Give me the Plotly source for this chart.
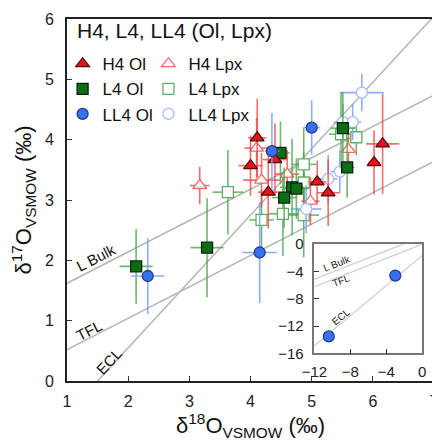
import plotly.graph_objects as go
import numpy as np

# ---------------- data ----------------
h4_ol_x = [4.11, 4.00, 4.40, 4.29, 5.09, 5.27, 6.02, 6.16]
h4_ol_y = [4.03, 3.57, 3.67, 3.13, 3.30, 3.12, 3.62, 3.93]
h4_ol_ex = [0.15, 0.20, 0.20, 0.17, 0.15, 0.19, 0.10, 0.27]
h4_ol_ey = [0.65, 0.50, 0.60, 0.60, 0.35, 0.55, 0.53, 0.83]

h4_lpx_x = [3.17, 4.10, 4.18, 4.60, 5.60, 4.98]
h4_lpx_y = [3.24, 3.86, 3.33, 3.43, 3.84, 2.98]
h4_lpx_ex = [0.16, 0.20, 0.30, 0.20, 0.10, 0.15]
h4_lpx_ey = [0.31, 0.50, 0.45, 0.40, 0.40, 0.40]

l4_ol_x = [2.13, 3.29, 4.49, 4.68, 4.75, 4.55, 5.58, 5.51]
l4_ol_y = [1.90, 2.21, 3.78, 3.21, 3.19, 3.04, 3.54, 4.19]
l4_ol_ex = [0.27, 0.27, 0.15, 0.20, 0.20, 0.20, 0.12, 0.20]
l4_ol_ey = [0.62, 0.82, 0.52, 0.80, 0.50, 0.50, 0.50, 0.60]

l4_lpx_x = [3.63, 4.18, 4.87, 4.87, 4.53, 4.87, 5.48, 5.73]
l4_lpx_y = [3.13, 2.67, 3.59, 3.29, 2.77, 2.75, 4.09, 4.04]
l4_lpx_ex = [0.25, 0.20, 0.20, 0.15, 0.25, 0.25, 0.20, 0.10]
l4_lpx_ey = [0.70, 0.50, 0.60, 0.50, 0.70, 0.70, 0.70, 0.30]

ll4_ol_x = [2.32, 4.15, 4.35, 5.00]
ll4_ol_y = [1.74, 2.13, 3.81, 4.20]
ll4_ol_ex = [0.27, 0.28, 0.12, 0.14]
ll4_ol_ey = [0.63, 0.84, 0.63, 0.45]

ll4_lpx_x = [4.91, 5.27, 5.46, 5.51, 5.67, 5.82]
ll4_lpx_y = [2.85, 3.35, 3.47, 4.29, 4.29, 4.78]
ll4_lpx_ex = [0.25, 0.15, 0.15, 0.15, 0.14, 0.36]
ll4_lpx_ey = [0.40, 0.40, 0.35, 0.30, 0.30, 0.31]

inset_x = [-10.4, -3.0]
inset_y = [-13.5, -4.6]

# reference lines: name, slope, intercept
ref_lines = [("L Bulk", 0.52, 1.10), ("TFL", 0.52, 0.0), ("ECL", 1.10, -1.65)]

FONT = "Liberation Sans, Arial, sans-serif"
RED, RED_L, RED_E = "#e8141c", "#f26a6a", "rgba(245,70,70,0.8)"
GRN, GRN_L, GRN_E = "#0b6e12", "#62ad62", "rgba(75,165,75,0.8)"
BLU, BLU_L, BLU_E = "#3a6ff0", "#a3bdf5", "rgba(120,160,245,0.85)"

fig = go.Figure()

# main reference lines
xs = np.linspace(0.5, 7.5, 50)
for name, m, b in ref_lines:
    fig.add_trace(go.Scatter(x=xs, y=m * xs + b, mode="lines",
                             line=dict(color="#b8b8b8", width=1.6),
                             showlegend=False, hoverinfo="skip"))

def add_series(x, y, ex, ey, name, symbol, fill, edge, ecol, size, legend, rank):
    fig.add_trace(go.Scatter(
        x=x, y=y, mode="markers", name=name,
        marker=dict(symbol=symbol, size=size, color=fill,
                    line=dict(color=edge, width=1.3)),
        error_x=dict(type="data", array=ex, color=ecol, thickness=1.6, width=0),
        error_y=dict(type="data", array=ey, color=ecol, thickness=1.6, width=0),
        legend=legend, legendrank=rank))

add_series(l4_lpx_x, l4_lpx_y, l4_lpx_ex, l4_lpx_ey, "L4 Lpx", "square", "white", GRN_L, GRN_E, 11, "legend2", 2)
add_series(h4_lpx_x, h4_lpx_y, h4_lpx_ex, h4_lpx_ey, "H4 Lpx", "triangle-up", "white", RED_L, RED_E, 12, "legend2", 1)
add_series(ll4_lpx_x, ll4_lpx_y, ll4_lpx_ex, ll4_lpx_ey, "LL4 Lpx", "circle", "white", BLU_L, BLU_E, 11, "legend2", 3)
add_series(l4_ol_x, l4_ol_y, l4_ol_ex, l4_ol_ey, "L4 Ol", "square", GRN, "#102010", GRN_E, 11, "legend", 2)
add_series(h4_ol_x, h4_ol_y, h4_ol_ex, h4_ol_ey, "H4 Ol", "triangle-up", RED, "#5a0a0a", RED_E, 12, "legend", 1)
add_series(ll4_ol_x, ll4_ol_y, ll4_ol_ex, ll4_ol_ey, "LL4 Ol", "circle", BLU, "#1e3c8c", BLU_E, 11, "legend", 3)

# inset lines and points
xi = np.linspace(-13, 1, 30)
for name, m, b in ref_lines:
    fig.add_trace(go.Scatter(x=xi, y=m * xi + b, mode="lines", xaxis="x2", yaxis="y2",
                             line=dict(color="#cccccc", width=1.2),
                             showlegend=False, hoverinfo="skip"))
fig.add_trace(go.Scatter(x=inset_x, y=inset_y, mode="markers", xaxis="x2", yaxis="y2",
                         marker=dict(symbol="circle", size=11, color=BLU,
                                     line=dict(color="#1e3c8c", width=1.2)),
                         showlegend=False))

# line labels (main)
main_labels = [("L Bulk", 1.48, 2.05, -27), ("TFL", 1.36, 0.83, -27), ("ECL", 1.68, 0.33, -47)]
for t, x, y, a in main_labels:
    fig.add_annotation(x=x, y=y, text=t, showarrow=False, textangle=a,
                       font=dict(family=FONT, size=15, color="#111"))
inset_labels = [("L Bulk", -9.5, -2.9, -21), ("TFL", -9.0, -5.3, -21), ("ECL", -9.0, -10.6, -40)]
for t, x, y, a in inset_labels:
    fig.add_annotation(x=x, y=y, xref="x2", yref="y2", text=t, showarrow=False,
                       textangle=a, font=dict(family=FONT, size=10, color="#222"))

fig.add_annotation(xref="paper", yref="paper", x=0.022, y=0.968, xanchor="left",
                   yanchor="middle", text="H4, L4, LL4 (Ol, Lpx)", showarrow=False,
                   font=dict(family=FONT, size=21, color="#111"))

# x-axis title (placed as annotation for exact position)
fig.add_annotation(xref="paper", yref="paper", x=0.5, y=-0.122, xanchor="center",
                   yanchor="middle", text="δ<sup>18</sup>O<sub>VSMOW</sub> (‰)",
                   showarrow=False, font=dict(family=FONT, size=22, color="#111"))

axis_common = dict(showgrid=False, zeroline=False, showline=True, mirror=True,
                   ticks="inside", ticklen=5, tickcolor="#333")

fig.update_layout(
    width=432, height=432,
    margin=dict(l=59, r=2, t=5, b=59),
    paper_bgcolor="white", plot_bgcolor="white",
    font=dict(family=FONT, color="#111"),
    xaxis=dict(range=[1, 7], dtick=1, linecolor="#222", linewidth=2,
               domain=[0, 1], ticklabelstandoff=5,
               tickfont=dict(family=FONT, size=16, color="#222"), **axis_common),
    yaxis=dict(range=[0, 6], dtick=1, linecolor="#222", linewidth=2,
               domain=[0, 1], ticklabelstandoff=8,
               tickfont=dict(family=FONT, size=16, color="#222"),
               title=dict(text="δ<sup>17</sup>O<sub>VSMOW</sub> (‰)", standoff=10,
                          font=dict(family=FONT, size=22)), **axis_common),
    xaxis2=dict(range=[-12, 0], tickvals=[-12, -8, -4, 0], domain=[0.674, 0.968],
                anchor="y2", linecolor="#777", linewidth=1.5, ticklabelstandoff=4,
                tickfont=dict(family=FONT, size=15, color="#222"), **axis_common),
    yaxis2=dict(range=[-16, 0], tickvals=[0, -4, -8, -12, -16], domain=[0.076, 0.378],
                anchor="x2", linecolor="#777", linewidth=1.5, ticklabelstandoff=6,
                tickfont=dict(family=FONT, size=15, color="#222"), **axis_common),
    legend=dict(x=-0.012, y=0.925, xanchor="left", yanchor="top", bgcolor="rgba(0,0,0,0)",
                font=dict(family=FONT, size=17, color="#111"), tracegroupgap=0,
                itemwidth=30),
    legend2=dict(x=0.222, y=0.925, xanchor="left", yanchor="top", bgcolor="rgba(0,0,0,0)",
                 font=dict(family=FONT, size=17, color="#111"), tracegroupgap=0,
                 itemwidth=30),
)

fig.write_html("out.html")
